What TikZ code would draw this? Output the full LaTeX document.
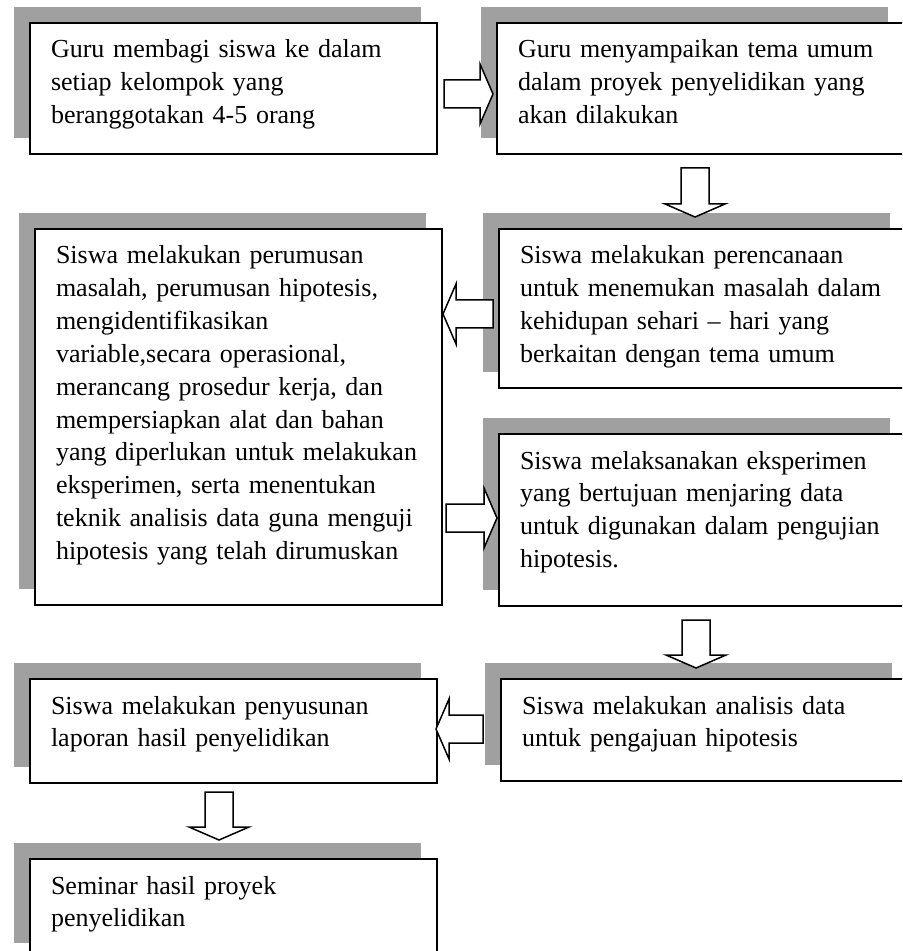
\documentclass[tikz,border=0pt]{standalone}
\usepackage{fontspec}
\setmainfont{Liberation Serif}
\usepackage{tikz}
\usetikzlibrary{calc,shadows}
\definecolor{shadowgray}{RGB}{160,160,160}

\tikzset{
    stepbox/.style={draw, line width=1pt, fill=white, anchor=north west,
        general shadow={fill=shadowgray, shadow xshift=-8pt, shadow yshift=8pt},
        text width=182.5pt, align=left, inner xsep=10.5pt, inner ysep=0pt,
        text height=17.5pt, font=\fontsize{13pt}{16.4pt}\selectfont},
    blockarrow/.style={draw, fill=white, line width=0.75pt,
        to path={let \p1=($(\tikztotarget)!6.5pt!(\tikztostart)$) in
            ($(\tikztostart)!7pt!90:(\tikztotarget)$)
            -- ($(\p1)!7pt!90:(\tikztotarget)$)
            -- ($(\p1)!15pt!90:(\tikztotarget)$)
            -- (\tikztotarget)
            -- ($(\p1)!15pt!-90:(\tikztotarget)$)
            -- ($(\p1)!7pt!-90:(\tikztotarget)$)
            -- ($(\tikztostart)!7pt!-90:(\tikztotarget)$)
            -- cycle}}
}

\begin{document}
\begin{tikzpicture}[x=0.5pt,y=-0.5pt]
    \useasboundingbox (0,0) rectangle (902,951);
    \clip (0,0) rectangle (902,951);

    % Draw the boxes
    \node[stepbox, text depth=48pt] (guru1) at (29,22)
        {Guru membagi siswa ke dalam\\ setiap kelompok yang\\ beranggotakan 4-5 orang};
    \node[stepbox, text depth=48pt] (guru2) at (496,22)
        {Guru menyampaikan tema umum\\ dalam proyek penyelidikan yang\\ akan dilakukan};
    \node[stepbox, text depth=62pt] (rencana) at (498,228)
        {Siswa melakukan perencanaan\\ untuk menemukan masalah dalam\\ kehidupan sehari – hari yang\\ berkaitan dengan tema umum};
    \node[stepbox, text depth=170.5pt] (rumus) at (34,228)
        {Siswa melakukan perumusan\\ masalah, perumusan hipotesis,\\ mengidentifikasikan\\ variable,secara operasional,\\ merancang prosedur kerja, dan\\ mempersiapkan alat dan bahan\\ yang diperlukan untuk melakukan\\ eksperimen, serta menentukan\\ teknik analisis data guna menguji\\ hipotesis yang telah dirumuskan};
    \node[stepbox, text depth=68.5pt] (eksperimen) at (498,433)
        {Siswa melaksanakan eksperimen\\ yang bertujuan menjaring data\\ untuk digunakan dalam pengujian\\ hipotesis.};
    \node[stepbox, text depth=33.5pt] (analisis) at (500,678)
        {Siswa melakukan analisis data\\ untuk pengajuan hipotesis};
    \node[stepbox, text depth=34.5pt] (laporan) at (29,678)
        {Siswa melakukan penyusunan\\ laporan hasil penyelidikan};
    \node[stepbox, text depth=32.5pt] (seminar) at (29,858)
        {Seminar hasil proyek\\ penyelidikan};

    % Draw arrows
    \draw[blockarrow] ([shift={(6,5.5)}]guru1.east) to ([shift={(-3,5.5)}]guru2.west);
    \draw[blockarrow] ([shift={(-5.5,13)}]guru2.south) to ([shift={(-7.5,-11)}]rencana.north);
    \draw[blockarrow] ([shift={(-5,5.5)}]rencana.west) to ([shift={(0,-103)}]rumus.east);
    \draw[blockarrow] ([shift={(3,101)}]rumus.east) to ([shift={(-1,-2)}]eksperimen.west);
    \draw[blockarrow] ([shift={(-6.5,13)}]eksperimen.south) to ([shift={(-8.5,-10)}]analisis.north);
    \draw[blockarrow] ([shift={(-17,-1)}]analisis.west) to ([shift={(-2,-2)}]laporan.east);
    \draw[blockarrow] ([shift={(-14.5,8)}]laporan.south) to ([shift={(-14.5,-18)}]seminar.north);
\end{tikzpicture}
\end{document}
